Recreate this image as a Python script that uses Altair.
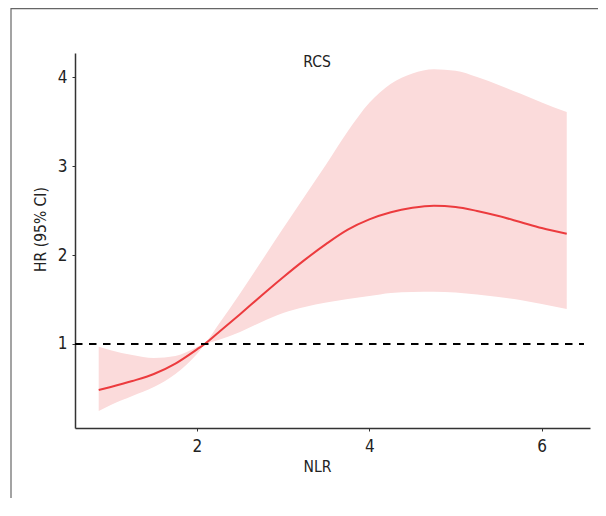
import altair as alt
import pandas as pd

# NLR grid
nlr = [0.86, 1.0, 1.25, 1.5, 1.75, 2.0, 2.09, 2.25, 2.5, 2.75, 3.0, 3.25, 3.5,
       3.75, 4.0, 4.25, 4.5, 4.75, 5.0, 5.25, 5.5, 5.75, 6.0, 6.29]
hr = [0.483, 0.517, 0.584, 0.663, 0.78, 0.94, 1.0, 1.13, 1.335, 1.545, 1.75,
      1.945, 2.125, 2.285, 2.40, 2.48, 2.53, 2.553, 2.54, 2.495, 2.438,
      2.371, 2.303, 2.239]
upper = [0.97, 0.93, 0.876, 0.843, 0.865, 0.966, 1.01, 1.219, 1.567, 1.933,
         2.30, 2.66, 3.02, 3.39, 3.71, 3.925, 4.04, 4.087, 4.07, 4.0,
         3.91, 3.815, 3.715, 3.607]
lower = [0.247, 0.315, 0.416, 0.517, 0.663, 0.888, 0.989, 1.045, 1.135, 1.247,
         1.348, 1.416, 1.466, 1.506, 1.539, 1.573, 1.584, 1.588, 1.579, 1.556,
         1.528, 1.494, 1.449, 1.393]

ref_x = [0.585, 6.49]
ref_y = [1.0]
x_ticks = [2, 4, 6]
y_ticks = [1, 2, 3, 4]
x_domain = [0.585, 6.56]
y_domain = [0.056, 4.27]
title_text = ["RCS"]

FONT = "DejaVu Sans Condensed, Roboto, sans-serif"
FS = 15.5
LFS = 17

df = pd.DataFrame({"NLR": nlr, "HR": hr, "upper": upper, "lower": lower})
ref_df = pd.DataFrame({"x": [ref_x[0]], "x2": [ref_x[1]], "y": ref_y})

xs = alt.Scale(domain=x_domain, nice=False, zero=False)
ys = alt.Scale(domain=y_domain, nice=False, zero=False)

xaxis = alt.Axis(values=x_ticks, format="d", title="NLR", grid=False, tickSize=3,
                 labelPadding=7, titleX=242, titleY=43,
                 titleBaseline="alphabetic", titleAlign="center")
yaxis = alt.Axis(values=y_ticks, format="d", title="HR (95% CI)", grid=False,
                 tickSize=3, labelPadding=5, titleX=-30, titleY=176,
                 titleBaseline="alphabetic", titleAlign="center", titleAngle=-90)

band = alt.Chart(df).mark_area(color="#FBDBDB", opacity=1,
                               interpolate="monotone").encode(
    x=alt.X("NLR:Q", scale=xs, axis=xaxis),
    y=alt.Y("lower:Q", scale=ys, axis=yaxis),
    y2="upper:Q",
)

line = alt.Chart(df).mark_line(color="#EC3B3E", strokeWidth=2,
                               interpolate="monotone").encode(
    x=alt.X("NLR:Q", scale=xs),
    y=alt.Y("HR:Q", scale=ys),
)

ref = alt.Chart(ref_df).mark_rule(color="black", strokeWidth=2,
                                  strokeDash=[7.5, 6.5]).encode(
    x=alt.X("x:Q", scale=xs), x2="x2:Q", y=alt.Y("y:Q", scale=ys)
)

title = alt.Chart(pd.DataFrame({"t": title_text})).mark_text(
    font=FONT, fontSize=FS, color="#222", baseline="alphabetic", align="center"
).encode(text="t:N", x=alt.value(242), y=alt.value(14))

frame_top = alt.Chart(pd.DataFrame({"a": [0]})).mark_rule(
    color="#666", strokeWidth=1.2, clip=False
).encode(x=alt.value(-64), x2=alt.value(540), y=alt.value(-44.4))
frame_left = alt.Chart(pd.DataFrame({"a": [0]})).mark_rule(
    color="#666", strokeWidth=1.2, clip=False
).encode(x=alt.value(-64), y=alt.value(-45), y2=alt.value(460))

chart = alt.layer(band, line, ref, title, frame_top, frame_left).properties(
    width=515, height=375,
    autosize=alt.AutoSizeParams(type="none"),
    padding={"left": 67, "top": 45, "right": 8, "bottom": 70},
).configure_view(stroke=None).configure_axis(
    domainColor="#333", domainWidth=1.5, tickColor="#333", tickWidth=1,
    labelFont=FONT, labelFontSize=LFS, labelColor="#222",
    titleFont=FONT, titleFontSize=FS, titleColor="#222", titleFontWeight="normal",
)

chart.save("out.html", embed_options={"renderer": "svg", "actions": False})
